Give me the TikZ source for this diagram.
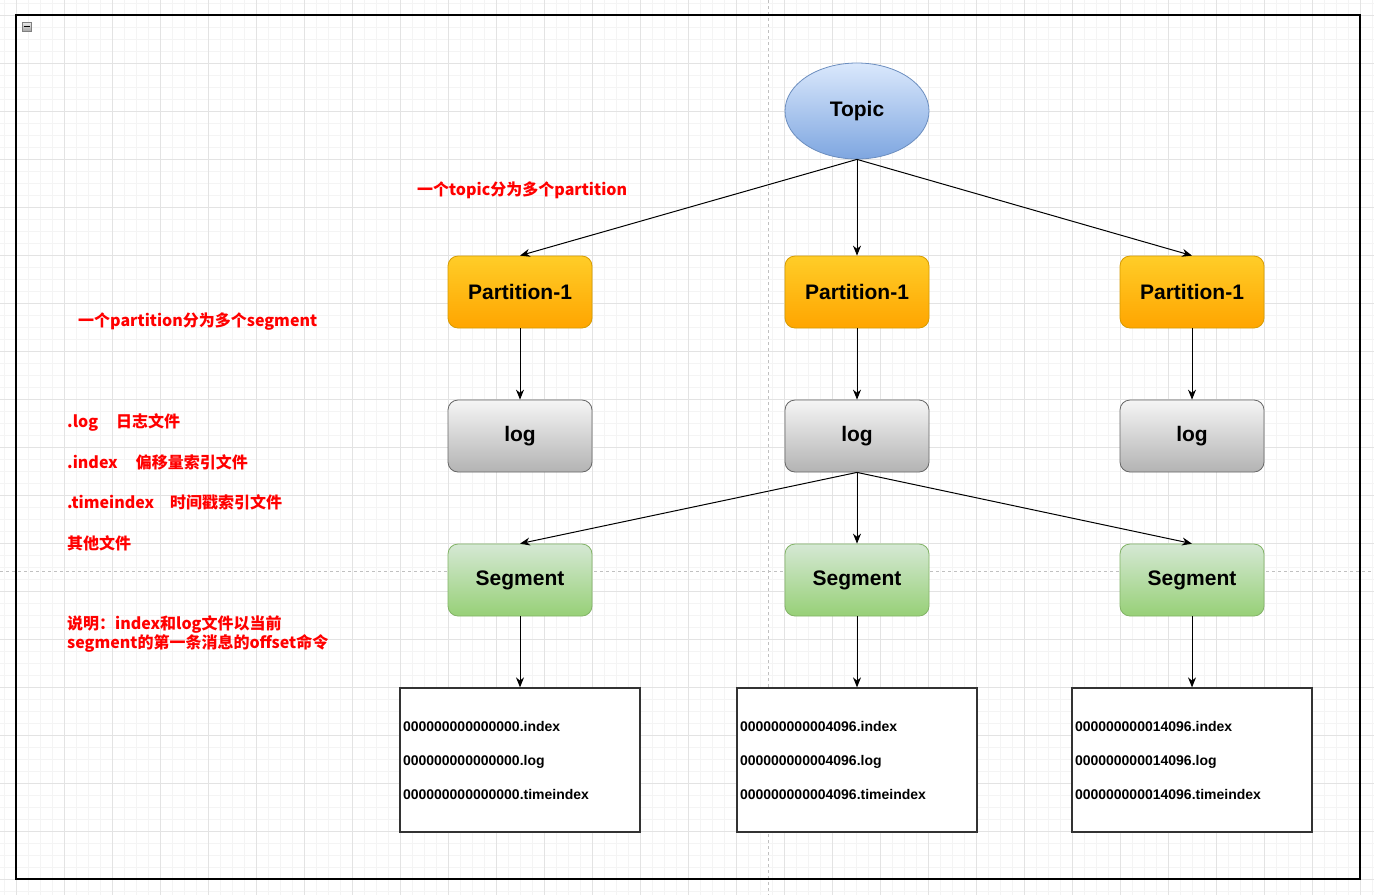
\documentclass[tikz,border=0pt]{standalone}
\usepackage{fontspec}
\setmainfont{Liberation Sans}
\newfontfamily\cjk{Noto Sans CJK SC}
\usetikzlibrary{shapes.geometric,arrows.meta}
\definecolor{gminor}{HTML}{F4F4F4}
\definecolor{gmajor}{HTML}{E3E3E3}
\definecolor{pbreak}{HTML}{C0C0C0}
\definecolor{topictop}{HTML}{DAE8FC}
\definecolor{topicbot}{HTML}{7EA6E0}
\definecolor{topicborder}{HTML}{6C8EBF}
\definecolor{parttop}{HTML}{FFCD28}
\definecolor{partbot}{HTML}{FFA500}
\definecolor{partborder}{HTML}{D79B00}
\definecolor{logtop}{HTML}{F5F5F5}
\definecolor{logbot}{HTML}{B3B3B3}
\definecolor{logborder}{HTML}{666666}
\definecolor{segtop}{HTML}{D5E8D4}
\definecolor{segbot}{HTML}{97D077}
\definecolor{segborder}{HTML}{82B366}
\definecolor{fileborder}{HTML}{333333}
\definecolor{notered}{HTML}{FF0000}
\tikzset{
 gridminor/.style={draw=gminor, line width=0.8pt},
 gridmajor/.style={draw=gmajor, line width=0.8pt},
 pagebreak/.style={draw=pbreak, dash pattern=on 3pt off 3pt, line width=0.8pt},
 topicnode/.style={ellipse, draw=topicborder, line width=0.8pt, top color=topictop, bottom color=topicbot, minimum width=144pt, minimum height=96pt, inner sep=0pt, font=\fontsize{21}{25}\selectfont\bfseries},
 boxbase/.style={rectangle, rounded corners=10pt, minimum width=144pt, minimum height=72pt, inner sep=0pt, line width=0.8pt, font=\fontsize{21}{25}\selectfont\bfseries},
 partnode/.style={boxbase, draw=partborder, top color=parttop, bottom color=partbot},
 lognode/.style={boxbase, draw=logborder, top color=logtop, bottom color=logbot},
 segnode/.style={boxbase, draw=segborder, top color=segtop, bottom color=segbot},
 filebox/.style={rectangle, draw=fileborder, fill=white, line width=1.3pt, minimum width=240pt, minimum height=144pt, text width=234pt, inner xsep=3pt, inner ysep=0pt, align=left, font=\fontsize{14}{34}\selectfont\bfseries},
 note/.style={text=notered, font=\cjk\bfseries\fontsize{16}{19}\selectfont, anchor=west, inner sep=0pt, align=left},
 conn/.style={draw=black, line width=1pt, -{Stealth[length=10pt,width=8pt]}},
 iconbox/.style={rectangle, draw=gray, top color=white!85!gray, bottom color=gray!70, minimum width=9pt, minimum height=9pt, inner sep=0pt, line width=0.6pt,
   path picture={\draw[black, line width=1.3pt] ([xshift=1.5pt]path picture bounding box.west) -- ([xshift=-1.5pt]path picture bounding box.east);}}
}
\begin{document}
\begin{tikzpicture}[x=1pt,y=-1pt]
\useasboundingbox (0,0) rectangle (1374,895);
\fill[white] (0,0) rectangle (1374,895);
% grid
\foreach \i in {0,...,114} { \draw[gridminor] ({4+12*\i},0) -- ({4+12*\i},895); }
\foreach \j in {0,...,74} { \draw[gridminor] (0,{3+12*\j}) -- (1374,{3+12*\j}); }
\foreach \i in {0,...,28} { \draw[gridmajor] ({16+48*\i},0) -- ({16+48*\i},895); }
\foreach \j in {0,...,18} { \draw[gridmajor] (0,{15+48*\j}) -- (1374,{15+48*\j}); }
% page breaks
\draw[pagebreak] (768.5,0) -- (768.5,895);
\draw[pagebreak] (0,571.5) -- (1374,571.5);
% frame
\draw[black, line width=1.3pt] (16,15) rectangle (1360,879);
\node[iconbox] (icon) at (26.5,26.5) {};

% nodes
\node[topicnode] (topic) at (857,111) {\raisebox{-2pt}{Topic}};
\node[partnode] (p1) at (520,292) {Partition-1};
\node[partnode] (p2) at (857,292) {Partition-1};
\node[partnode] (p3) at (1192,292) {Partition-1};
\node[lognode] (l1) at (520,436) {\raisebox{-1pt}{log}};
\node[lognode] (l2) at (857,436) {\raisebox{-1pt}{log}};
\node[lognode] (l3) at (1192,436) {\raisebox{-1pt}{log}};
\node[segnode] (s1) at (520,580) {Segment};
\node[segnode] (s2) at (857,580) {Segment};
\node[segnode] (s3) at (1192,580) {Segment};
\node[filebox] (f1) at (520,760) {000000000000000.index\\000000000000000.log\\000000000000000.timeindex};
\node[filebox] (f2) at (857,760) {000000000004096.index\\000000000004096.log\\000000000004096.timeindex};
\node[filebox] (f3) at (1192,760) {000000000014096.index\\000000000014096.log\\000000000014096.timeindex};

% connectors
\draw[conn] (topic.south) -- (p1.north);
\draw[conn] (topic.south) -- (p2.north);
\draw[conn] (topic.south) -- (p3.north);
\draw[conn] (p1) -- (l1);
\draw[conn] (p2) -- (l2);
\draw[conn] (p3) -- (l3);
\draw[conn] (l2.south) -- (s1.north);
\draw[conn] (l2.south) -- (s2.north);
\draw[conn] (l2.south) -- (s3.north);
\draw[conn] (s1) -- (f1);
\draw[conn] (s2) -- (f2);
\draw[conn] (s3) -- (f3);

% notes
\node[note] (n1) at (417,190) {一个topic分为多个partition};
\node[note] (n2) at (78,322) {一个partition分为多个segment};
\node[note] (n3) at (67,422) {.log\hspace*{18pt}日志文件};
\node[note] (n4) at (67,462) {.index\hspace*{18pt}偏移量索引文件};
\node[note] (n5) at (67,502) {.timeindex\hspace*{16pt}时间戳索引文件};
\node[note] (n6) at (67,543) {其他文件};
\node[note] (n7) at (67,633.5) {说明：index和log文件以当前\\segment的第一条消息的offset命令};
\end{tikzpicture}
\end{document}
